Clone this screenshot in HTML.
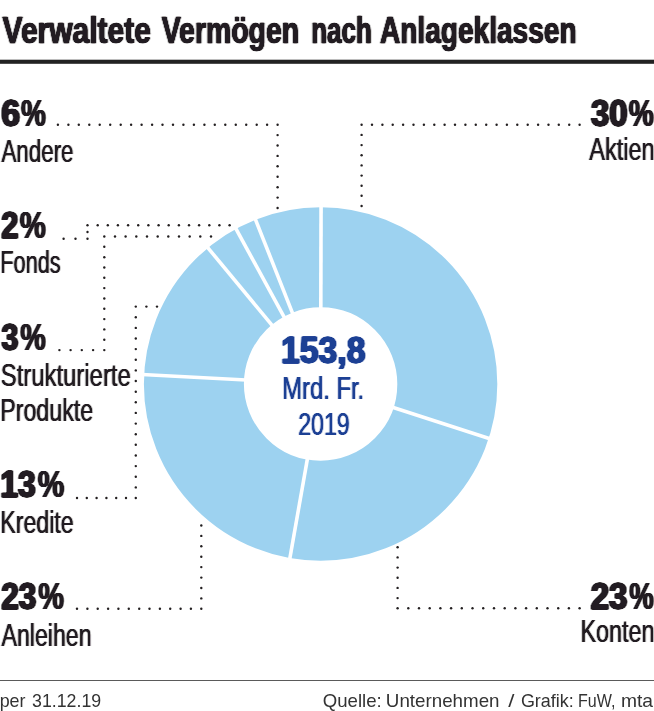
<!DOCTYPE html>
<html lang="de"><head><meta charset="utf-8"><title>Verwaltete Vermögen nach Anlageklassen</title>
<style>
html,body{margin:0;padding:0;background:#fff}
svg{display:block}
text{font-family:"Liberation Sans",sans-serif;fill:#231f20;stroke-linejoin:round}
.b{font-weight:bold;stroke:#231f20;stroke-width:0.9px}
.r{stroke:none}
.n{fill:#1d3f94}
.b.n{stroke:#1d3f94}
.f{fill:#333}
.p{stroke-width:0.0px}
.t{stroke-width:0.7px}
</style></head><body>
<svg width="654" height="711" viewBox="0 0 654 711">
<defs>
<filter id="fb" x="-5%" y="-5%" width="110%" height="110%"><feConvolveMatrix in="SourceAlpha" order="3 1" kernelMatrix="0.65 1 0.65" divisor="1" result="a"/><feFlood flood-color="#231f20"/><feComposite in2="a" operator="in"/></filter>
<filter id="ft" x="-5%" y="-5%" width="110%" height="110%"><feConvolveMatrix in="SourceAlpha" order="3 1" kernelMatrix="0.3 1 0.3" divisor="1" result="a"/><feFlood flood-color="#231f20"/><feComposite in2="a" operator="in"/></filter>
<filter id="fbn" x="-5%" y="-5%" width="110%" height="110%"><feConvolveMatrix in="SourceAlpha" order="3 1" kernelMatrix="0.45 1 0.45" divisor="1" result="a"/><feFlood flood-color="#1d3f94"/><feComposite in2="a" operator="in"/></filter>
<filter id="fr" x="-5%" y="-5%" width="110%" height="110%"><feConvolveMatrix in="SourceAlpha" order="3 1" kernelMatrix="0.3 1 0.3" divisor="1" result="a"/><feFlood flood-color="#231f20"/><feComposite in2="a" operator="in"/></filter>
<filter id="frn" x="-5%" y="-5%" width="110%" height="110%"><feConvolveMatrix in="SourceAlpha" order="3 1" kernelMatrix="0.3 1 0.3" divisor="1" result="a"/><feFlood flood-color="#1d3f94"/><feComposite in2="a" operator="in"/></filter>
</defs>
<rect width="654" height="711" fill="#fff"/>
<g fill="#231f20">
<circle cx="57.9" cy="124.7" r="1.2"/>
<circle cx="68.4" cy="124.7" r="1.2"/>
<circle cx="78.8" cy="124.7" r="1.2"/>
<circle cx="89.3" cy="124.7" r="1.2"/>
<circle cx="99.7" cy="124.7" r="1.2"/>
<circle cx="110.2" cy="124.7" r="1.2"/>
<circle cx="120.7" cy="124.7" r="1.2"/>
<circle cx="131.1" cy="124.7" r="1.2"/>
<circle cx="141.6" cy="124.7" r="1.2"/>
<circle cx="152.1" cy="124.7" r="1.2"/>
<circle cx="162.5" cy="124.7" r="1.2"/>
<circle cx="173.0" cy="124.7" r="1.2"/>
<circle cx="183.4" cy="124.7" r="1.2"/>
<circle cx="193.9" cy="124.7" r="1.2"/>
<circle cx="204.4" cy="124.7" r="1.2"/>
<circle cx="214.8" cy="124.7" r="1.2"/>
<circle cx="225.3" cy="124.7" r="1.2"/>
<circle cx="235.8" cy="124.7" r="1.2"/>
<circle cx="246.2" cy="124.7" r="1.2"/>
<circle cx="256.7" cy="124.7" r="1.2"/>
<circle cx="267.1" cy="124.7" r="1.2"/>
<circle cx="277.6" cy="124.7" r="1.2"/>
<circle cx="277.6" cy="135.1" r="1.2"/>
<circle cx="277.6" cy="145.5" r="1.2"/>
<circle cx="277.6" cy="155.9" r="1.2"/>
<circle cx="277.6" cy="166.3" r="1.2"/>
<circle cx="277.6" cy="176.8" r="1.2"/>
<circle cx="277.6" cy="187.2" r="1.2"/>
<circle cx="277.6" cy="197.6" r="1.2"/>
<circle cx="277.6" cy="208.0" r="1.2"/>
<circle cx="579.6" cy="124.8" r="1.2"/>
<circle cx="569.2" cy="124.8" r="1.2"/>
<circle cx="558.8" cy="124.8" r="1.2"/>
<circle cx="548.5" cy="124.8" r="1.2"/>
<circle cx="538.1" cy="124.8" r="1.2"/>
<circle cx="527.7" cy="124.8" r="1.2"/>
<circle cx="517.3" cy="124.8" r="1.2"/>
<circle cx="506.9" cy="124.8" r="1.2"/>
<circle cx="496.6" cy="124.8" r="1.2"/>
<circle cx="486.2" cy="124.8" r="1.2"/>
<circle cx="475.8" cy="124.8" r="1.2"/>
<circle cx="465.4" cy="124.8" r="1.2"/>
<circle cx="455.0" cy="124.8" r="1.2"/>
<circle cx="444.6" cy="124.8" r="1.2"/>
<circle cx="434.3" cy="124.8" r="1.2"/>
<circle cx="423.9" cy="124.8" r="1.2"/>
<circle cx="413.5" cy="124.8" r="1.2"/>
<circle cx="403.1" cy="124.8" r="1.2"/>
<circle cx="392.7" cy="124.8" r="1.2"/>
<circle cx="382.4" cy="124.8" r="1.2"/>
<circle cx="372.0" cy="124.8" r="1.2"/>
<circle cx="361.6" cy="124.8" r="1.2"/>
<circle cx="361.6" cy="134.9" r="1.2"/>
<circle cx="361.6" cy="145.1" r="1.2"/>
<circle cx="361.6" cy="155.2" r="1.2"/>
<circle cx="361.6" cy="165.4" r="1.2"/>
<circle cx="361.6" cy="175.6" r="1.2"/>
<circle cx="361.6" cy="185.7" r="1.2"/>
<circle cx="361.6" cy="195.8" r="1.2"/>
<circle cx="361.6" cy="206.0" r="1.2"/>
<circle cx="63.6" cy="238.8" r="1.2"/>
<circle cx="75.5" cy="238.8" r="1.2"/>
<circle cx="87.5" cy="238.8" r="1.2"/>
<circle cx="87.5" cy="232.0" r="1.2"/>
<circle cx="87.5" cy="225.2" r="1.2"/>
<circle cx="97.7" cy="225.2" r="1.2"/>
<circle cx="107.8" cy="225.2" r="1.2"/>
<circle cx="117.9" cy="225.2" r="1.2"/>
<circle cx="128.1" cy="225.2" r="1.2"/>
<circle cx="138.2" cy="225.2" r="1.2"/>
<circle cx="148.4" cy="225.2" r="1.2"/>
<circle cx="158.6" cy="225.2" r="1.2"/>
<circle cx="168.7" cy="225.2" r="1.2"/>
<circle cx="178.9" cy="225.2" r="1.2"/>
<circle cx="189.0" cy="225.2" r="1.2"/>
<circle cx="199.1" cy="225.2" r="1.2"/>
<circle cx="209.3" cy="225.2" r="1.2"/>
<circle cx="219.4" cy="225.2" r="1.2"/>
<circle cx="229.6" cy="225.2" r="1.2"/>
<circle cx="59.4" cy="350.1" r="1.2"/>
<circle cx="70.6" cy="350.1" r="1.2"/>
<circle cx="81.8" cy="350.1" r="1.2"/>
<circle cx="93.1" cy="350.1" r="1.2"/>
<circle cx="104.3" cy="350.1" r="1.2"/>
<circle cx="104.3" cy="339.8" r="1.2"/>
<circle cx="104.3" cy="329.4" r="1.2"/>
<circle cx="104.3" cy="319.1" r="1.2"/>
<circle cx="104.3" cy="308.8" r="1.2"/>
<circle cx="104.3" cy="298.5" r="1.2"/>
<circle cx="104.3" cy="288.1" r="1.2"/>
<circle cx="104.3" cy="277.8" r="1.2"/>
<circle cx="104.3" cy="267.5" r="1.2"/>
<circle cx="104.3" cy="257.2" r="1.2"/>
<circle cx="104.3" cy="246.8" r="1.2"/>
<circle cx="104.3" cy="236.5" r="1.2"/>
<circle cx="115.0" cy="236.5" r="1.2"/>
<circle cx="125.6" cy="236.5" r="1.2"/>
<circle cx="136.3" cy="236.5" r="1.2"/>
<circle cx="147.0" cy="236.5" r="1.2"/>
<circle cx="157.7" cy="236.5" r="1.2"/>
<circle cx="168.3" cy="236.5" r="1.2"/>
<circle cx="179.0" cy="236.5" r="1.2"/>
<circle cx="189.7" cy="236.5" r="1.2"/>
<circle cx="200.3" cy="236.5" r="1.2"/>
<circle cx="211.0" cy="236.5" r="1.2"/>
<circle cx="77.0" cy="498.0" r="1.2"/>
<circle cx="86.8" cy="498.0" r="1.2"/>
<circle cx="96.6" cy="498.0" r="1.2"/>
<circle cx="106.4" cy="498.0" r="1.2"/>
<circle cx="116.2" cy="498.0" r="1.2"/>
<circle cx="126.0" cy="498.0" r="1.2"/>
<circle cx="135.8" cy="498.0" r="1.2"/>
<circle cx="135.8" cy="487.4" r="1.2"/>
<circle cx="135.8" cy="476.7" r="1.2"/>
<circle cx="135.8" cy="466.1" r="1.2"/>
<circle cx="135.8" cy="455.5" r="1.2"/>
<circle cx="135.8" cy="444.8" r="1.2"/>
<circle cx="135.8" cy="434.2" r="1.2"/>
<circle cx="135.8" cy="423.6" r="1.2"/>
<circle cx="135.8" cy="412.9" r="1.2"/>
<circle cx="135.8" cy="402.3" r="1.2"/>
<circle cx="135.8" cy="391.7" r="1.2"/>
<circle cx="135.8" cy="381.0" r="1.2"/>
<circle cx="135.8" cy="370.4" r="1.2"/>
<circle cx="135.8" cy="359.8" r="1.2"/>
<circle cx="135.8" cy="349.1" r="1.2"/>
<circle cx="135.8" cy="338.5" r="1.2"/>
<circle cx="135.8" cy="327.9" r="1.2"/>
<circle cx="135.8" cy="317.2" r="1.2"/>
<circle cx="135.8" cy="306.6" r="1.2"/>
<circle cx="146.4" cy="306.6" r="1.2"/>
<circle cx="157.0" cy="306.6" r="1.2"/>
<circle cx="77.0" cy="608.8" r="1.2"/>
<circle cx="87.4" cy="608.8" r="1.2"/>
<circle cx="97.7" cy="608.8" r="1.2"/>
<circle cx="108.1" cy="608.8" r="1.2"/>
<circle cx="118.4" cy="608.8" r="1.2"/>
<circle cx="128.8" cy="608.8" r="1.2"/>
<circle cx="139.2" cy="608.8" r="1.2"/>
<circle cx="149.5" cy="608.8" r="1.2"/>
<circle cx="159.9" cy="608.8" r="1.2"/>
<circle cx="170.2" cy="608.8" r="1.2"/>
<circle cx="180.6" cy="608.8" r="1.2"/>
<circle cx="190.9" cy="608.8" r="1.2"/>
<circle cx="201.3" cy="608.8" r="1.2"/>
<circle cx="201.3" cy="598.4" r="1.2"/>
<circle cx="201.3" cy="588.0" r="1.2"/>
<circle cx="201.3" cy="577.6" r="1.2"/>
<circle cx="201.3" cy="567.1" r="1.2"/>
<circle cx="201.3" cy="556.7" r="1.2"/>
<circle cx="201.3" cy="546.3" r="1.2"/>
<circle cx="201.3" cy="535.9" r="1.2"/>
<circle cx="201.3" cy="525.5" r="1.2"/>
<circle cx="579.6" cy="608.3" r="1.2"/>
<circle cx="568.9" cy="608.3" r="1.2"/>
<circle cx="558.2" cy="608.3" r="1.2"/>
<circle cx="547.5" cy="608.3" r="1.2"/>
<circle cx="536.8" cy="608.3" r="1.2"/>
<circle cx="526.1" cy="608.3" r="1.2"/>
<circle cx="515.4" cy="608.3" r="1.2"/>
<circle cx="504.7" cy="608.3" r="1.2"/>
<circle cx="494.0" cy="608.3" r="1.2"/>
<circle cx="483.2" cy="608.3" r="1.2"/>
<circle cx="472.5" cy="608.3" r="1.2"/>
<circle cx="461.8" cy="608.3" r="1.2"/>
<circle cx="451.1" cy="608.3" r="1.2"/>
<circle cx="440.4" cy="608.3" r="1.2"/>
<circle cx="429.7" cy="608.3" r="1.2"/>
<circle cx="419.0" cy="608.3" r="1.2"/>
<circle cx="408.3" cy="608.3" r="1.2"/>
<circle cx="397.6" cy="608.3" r="1.2"/>
<circle cx="397.6" cy="598.1" r="1.2"/>
<circle cx="397.6" cy="587.9" r="1.2"/>
<circle cx="397.6" cy="577.8" r="1.2"/>
<circle cx="397.6" cy="567.6" r="1.2"/>
<circle cx="397.6" cy="557.4" r="1.2"/>
<circle cx="397.6" cy="547.2" r="1.2"/>
</g>
<circle cx="320.6" cy="384.0" r="126.69999999999999" fill="none" stroke="#9dd2f0" stroke-width="99.99999999999999"/>
<line x1="320.80" y1="309.30" x2="321.07" y2="205.30" stroke="#fff" stroke-width="3.6"/>
<line x1="391.68" y1="406.96" x2="490.65" y2="438.92" stroke="#fff" stroke-width="3.6"/>
<line x1="307.63" y1="457.57" x2="289.57" y2="559.99" stroke="#fff" stroke-width="3.6"/>
<line x1="246.01" y1="380.03" x2="142.15" y2="374.49" stroke="#fff" stroke-width="3.6"/>
<line x1="272.98" y1="326.44" x2="206.69" y2="246.31" stroke="#fff" stroke-width="3.6"/>
<line x1="284.84" y1="318.41" x2="235.06" y2="227.10" stroke="#fff" stroke-width="3.6"/>
<line x1="293.10" y1="314.55" x2="254.82" y2="217.85" stroke="#fff" stroke-width="3.6"/>
<rect x="0" y="59.7" width="654" height="4.1" fill="#222"/>
<rect x="0" y="680" width="654" height="1" fill="#5a5a5a"/>
<text y="43.4" font-size="37.2" class="b t" filter="url(#ft)"><tspan x="2.58" textLength="148.37" lengthAdjust="spacingAndGlyphs">Verwaltete</tspan> <tspan x="161.67" textLength="137.52" lengthAdjust="spacingAndGlyphs">Vermögen</tspan> <tspan x="311.23" textLength="60.53" lengthAdjust="spacingAndGlyphs">nach</tspan> <tspan x="379.96" textLength="196.61" lengthAdjust="spacingAndGlyphs">Anlageklassen</tspan></text>
<text y="126.3" font-size="37.8" class="b" filter="url(#fb)"><tspan x="1.16" textLength="18.86" lengthAdjust="spacingAndGlyphs">6</tspan><tspan x="20.95" textLength="24.88" lengthAdjust="spacingAndGlyphs" class="p">%</tspan></text>
<text x="1.46" y="161.7" font-size="30.5" textLength="72.04" lengthAdjust="spacingAndGlyphs" class="r" filter="url(#fr)">Andere</text>
<text y="237.8" font-size="37.8" class="b" filter="url(#fb)"><tspan x="1.30" textLength="17.12" lengthAdjust="spacingAndGlyphs">2</tspan><tspan x="19.77" textLength="26.11" lengthAdjust="spacingAndGlyphs" class="p">%</tspan></text>
<text x="0.32" y="273.3" font-size="30.5" textLength="60.37" lengthAdjust="spacingAndGlyphs" class="r" filter="url(#fr)">Fonds</text>
<text y="350.3" font-size="37.8" class="b" filter="url(#fb)"><tspan x="1.42" textLength="16.87" lengthAdjust="spacingAndGlyphs">3</tspan><tspan x="20.23" textLength="25.57" lengthAdjust="spacingAndGlyphs" class="p">%</tspan></text>
<text x="0.72" y="385.9" font-size="30.5" textLength="130.05" lengthAdjust="spacingAndGlyphs" class="r" filter="url(#fr)">Strukturierte</text>
<text x="0.19" y="421.4" font-size="30.5" textLength="93.04" lengthAdjust="spacingAndGlyphs" class="r" filter="url(#fr)">Produkte</text>
<text y="497.2" font-size="37.8" class="b" filter="url(#fb)"><tspan x="0.22" textLength="35.40" lengthAdjust="spacingAndGlyphs">13</tspan><tspan x="37.81" textLength="26.53" lengthAdjust="spacingAndGlyphs" class="p">%</tspan></text>
<text x="0.20" y="532.8" font-size="30.5" textLength="73.53" lengthAdjust="spacingAndGlyphs" class="r" filter="url(#fr)">Kredite</text>
<text y="609.2" font-size="37.8" class="b" filter="url(#fb)"><tspan x="1.28" textLength="35.03" lengthAdjust="spacingAndGlyphs">23</tspan><tspan x="38.28" textLength="25.73" lengthAdjust="spacingAndGlyphs" class="p">%</tspan></text>
<text x="1.55" y="645.5" font-size="30.5" textLength="90.05" lengthAdjust="spacingAndGlyphs" class="r" filter="url(#fr)">Anleihen</text>
<text y="126.0" font-size="37.8" class="b" filter="url(#fb)"><tspan x="591.09" textLength="36.52" lengthAdjust="spacingAndGlyphs">30</tspan><tspan x="628.85" textLength="25.04" lengthAdjust="spacingAndGlyphs" class="p">%</tspan></text>
<text x="589.35" y="159.8" font-size="30.5" textLength="65.17" lengthAdjust="spacingAndGlyphs" class="r" filter="url(#fr)">Aktien</text>
<text y="608.6" font-size="37.8" class="b" filter="url(#fb)"><tspan x="590.70" textLength="36.75" lengthAdjust="spacingAndGlyphs">23</tspan><tspan x="629.36" textLength="24.51" lengthAdjust="spacingAndGlyphs" class="p">%</tspan></text>
<text x="580.38" y="642.0" font-size="30.5" textLength="74.14" lengthAdjust="spacingAndGlyphs" class="r" filter="url(#fr)">Konten</text>
<text x="281.03" y="363.4" font-size="37.8" textLength="84.46" lengthAdjust="spacingAndGlyphs" class="b n" filter="url(#fbn)">153,8</text>
<text x="282.15" y="399.2" font-size="30.5" textLength="82.03" lengthAdjust="spacingAndGlyphs" class="r n" filter="url(#frn)">Mrd. Fr.</text>
<text x="298.13" y="435.2" font-size="30.5" textLength="51.67" lengthAdjust="spacingAndGlyphs" class="r n" filter="url(#frn)">2019</text>
<text y="707.0" font-size="17.8" class="f"><tspan x="-0.35" textLength="25.85" lengthAdjust="spacingAndGlyphs">per</tspan> <tspan x="32.02" textLength="69.12" lengthAdjust="spacingAndGlyphs">31.12.19</tspan></text>
<text y="707.0" font-size="17.8" class="f"><tspan x="322.72" textLength="58.98" lengthAdjust="spacingAndGlyphs">Quelle:</tspan> <tspan x="385.85" textLength="113.67" lengthAdjust="spacingAndGlyphs">Unternehmen</tspan> <tspan x="508.20" textLength="6.20" lengthAdjust="spacingAndGlyphs">/</tspan> <tspan x="520.90" textLength="52.84" lengthAdjust="spacingAndGlyphs">Grafik:</tspan> <tspan x="577.98" textLength="37.46" lengthAdjust="spacingAndGlyphs">FuW,</tspan> <tspan x="620.92" textLength="32.08" lengthAdjust="spacingAndGlyphs">mta</tspan></text>
</svg></body></html>
